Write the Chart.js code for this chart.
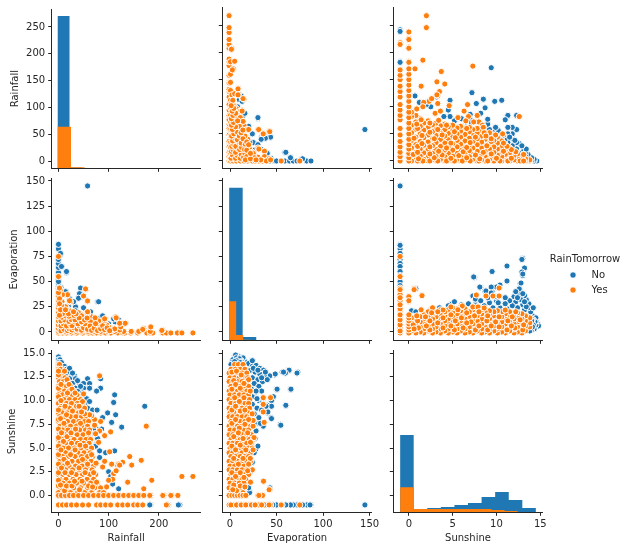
<!DOCTYPE html>
<html><head><meta charset="utf-8">
<style>html,body{margin:0;padding:0;background:#fff}#w{position:relative;width:628px;height:550px;overflow:hidden}canvas{position:absolute;left:0;top:0}</style>
<script src="https://cdn.jsdelivr.net/npm/chart.js@4"></script>
</head><body><div id="w"></div>
<script>
const BLUE='#1f77b4',ORANGE='#ff7f0e',INK='#262626';
const varNames=['Rainfall','Evaporation','Sunshine'];
const varRanges=[[-13.5,283.5],[-8.3,152.3],[-1.775,15.275]];
const xTickValues=[[0,100,200],[0,50,100,150],[0,5,10,15]];
const yTickValues=[[0,50,100,150,200,250],[0,25,50,75,100,125,150],[0,2.5,5,7.5,10,12.5,15]];
const colSpans=[[51.7,200.7],[222.3,371.7],[393.3,542.7]];
const rowSpans=[[7.3,168.3],[178.6,340.3],[350.5,512.3]];
const yTitlePad=[9,8,6];

/* Rainfall (rows of rainfall values at each sunshine level) */
const sunLevels=[13.8,13.3,12.9,12.4,12,11.5,11,10.6,10.1,9.7,9.2,8.7,8.3,7.8,7.3,6.9,6.4,5.9,5.5,5,4.5,4.1,3.6,3.1,2.7,2.2,1.7,1.3,0.8,0.3,0,-1];
const rainAtSunYes=[[0,2],[0,4],[1,7],[0,6,13],[2,10,18],[0,7,15,24],[3,12,21,30],[0,8,17,27,37],[2,11,22,33,44],[0,7,16,26,38,48],[3,12,22,33,43,52],[0,8,18,29,40,50],[2,13,24,35,46,56],[0,7,18,30,41,52,60],[3,12,24,36,47,58],[0,8,19,30,42,54,62],[2,13,25,37,49,60],[0,8,19,31,44,55,64],[3,14,26,38,50,61],[0,9,20,32,45,57,66],[2,14,27,39,51,63],[0,8,20,33,46,58,68],[3,15,27,40,52,65],[0,9,21,34,47,60,70],[2,14,28,41,54,67],[0,8,21,35,48,62,74],[3,15,29,43,57,70],[0,9,22,36,50,64,78],[2,16,30,44,58,72,84],[0,10,24,38,52,66,82,90],[0,6,14,22,30,40,50,60,70,80,90,100,110,120,130,140,150,160,170,184,210,226,238],[0,8,16,26,36,48,60,76,84,94,104,118,128,138,150,158,168,218,215]];
const rainSunExtraYes=[[268,2],[246,2],[175,7.3],[82,12.6],[170,0.7],[186,1.6],[165,3.7],[142,4.1],[146,3.2],[138,1.4],[128,3.5],[120,3.3],[106,3.3],[110,2.3],[108,1.7],[104,6.7],[102,4.6],[88,3],[92,6.3],[84,7.8],[72,8],[50,10.7],[48,9.9],[208,0],[224,0],[182,0],[122,3.2],[115,2.6],[92,3.6],[80,5.6],[82,6.8],[72,7.4],[74,6.5],[66,8.4],[62,8.5],[100,1.6],[96,0.9],
 [0,1],[0,1.6],[0,2.4],[0,3.3],[0,4.3],[0,5.2],[0,6.1],[0,7],[0,8],[0,9],[0,10.4],[0,11.3],[0,12.7],[0,13.1],[4,1.1],[6,2.9],[5,4.8],[6,6.6],[4,8.1],[5,10],[5,11.7],[12,0.5],[13,2.4],[11,3.8],[10,5.7],[11,7.6],[13,9.4],[16,1],[18,3.4],[17,6.2],[16,8.5],[18,10.8],[27,1],[26,2.4],[24,4.3],[25,6.6],[28,8.9],[32,1.5],[33,4.8],[34,7],[36,9.4],[42,0.6],[41,2.9],[43,5.3],[44,7.6],[47,1.5],[48,3.8],[53,2.4],[54,5.2],[52,8.6],[60,1],[58,3.3],[60,6.6],[68,0.9],[70,2.4],[66,4.3],[76,1.4],[75,3.4],
 [12,13.1],[17,12.2],[21,11.7],[27,11.2],[33,10.8],[41,9.4],[46,8.8]];
const rainSunNoPts=[[14.6,0],[14.3,0],[14.3,3],[14,1],[14,6],[13.6,0],[13.6,6],[13.6,12],[13.3,4],[13.3,10],[13.3,16],[13,8],[13,16],[13,22],[12.6,14],[12.6,26],[12.6,32],[12.3,34],[12.3,58],[12.3,84],[12.3,22],[11.8,42],[11.8,50],[11.8,62],[11.8,28],[11.3,50],[11.3,62],[11.3,84],[11.3,34],[11,76],[11,40],[10.6,112],[10.6,44],[9.8,110],[9.8,54],[9.4,172],[9.2,58],[9,68],[9,77],[8.7,98],[8.5,114],[8.5,64],[8.2,88],[7.7,106],[7.2,126],[7,76],[7,86],[7,70],[6.5,72],[5.4,76],[5.2,74],[4.7,112],[4.7,82],[4.5,94],[4,82],[3.2,118],[2.5,100],[2,104],[1.2,108],[0.7,120],[0,120],[-1,184],[-1,242],[-1,218],[0,6],[3,6],[6,6],[9,10],[0,100],[-1,239],[-1,219],[-1,182],[10.8,48],[10.2,56],[9.9,62],[8.1,70],[6,78],[13.4,22],[12.9,28],[12.1,38],[11.5,44]];
const rainSunNo=rainSunNoPts.map(p=>[p[1],p[0]]);

/* Rainfall at each evaporation level */
const evapLevels=[-1,0.5,2,3.5,5,7,9,11,13,15,17,19,21,24];
const rainAtEvapYes=[[0,8,16,26,36,48,60,68,76,84,94,104,118,128,132,144,158,176,183,188,208,215,224,237,246,268],[0,6,14,24,34,46,58,70,84,98,112,130,145,160,183],[2,10,20,32,44,56,68,80,94,108,122,208],[0,7,16,28,40,52,64,76,90,104,170],[3,12,24,36,48,60,72,86,100,124,184],[0,9,20,32,44,56,68,82,96],[3,14,26,38,50,62,74,88,124,134],[0,8,18,30,42,54,66,80,92],[3,12,22,36,48,60,72,94],[0,8,18,28,40,52,66,114],[2,12,24,36,46],[0,6,16,28,40,58],[3,10,22],[0,6,14]];
const rainEvapExtraYes=[[206,1.5],[168,2.5],[133,8.6],[122,8.6],[115,14],[112,3],[89,5.4],[92,13],[72,7],[73,14],[64,10],[58,18],[46,16],[58,30],[51,35],[55,42],[16,24],[24,30],[18,37],[7,30],[8,37],[4,42],[0,36],[0,55],[0,75],[22,31],[14,25],[54,42.7],[50,35.7],[58,30.8],[58,20],[0,27],[0,31],[0,35],[0,39],[2,43.6],[2,33],[6,26],
 [5,1],[11,2.6],[18,1.3],[21,3.2],[27,1.9],[30,4.2],[37,2.8],[41,6],[46,1.7],[50,4.1],[53,8],[58,2.6],[63,5.9],[66,1.6],[71,3.7],[74,8.2],[78,1.4],[84,3.1],[88,6.1],[92,2.3],[97,4],[102,1.2],[5,6],[10,8],[16,6],[23,8.3],[27,6.2],[34,9.8],[39,8],[46,10],[52,11.9],[57,13.8],[5,11],[12,12],[21,10.4],[25,12.4],[33,12],[41,14],[7,14.6],[14,16],[21,15.6],[31,16.4],[35,18],[8,18],[20,18],[30,20],[2,16.5],[4,22],[14,22],[2,28]];
const rainEvapNo=[[58,145],[78,30],[46,43],[44,34],[46,37],[35,24],[35,20],[84,14],[113,10],[16,59],[7,65],[4,77],[5,44],[15,40],[0,45],[0,48],[0,52],[0,59],[0,64],[0,68],[0,82.5],[0,87],[0,72],[0,55],[0,50],[0,43],[2,40],[16,60],[6,65],[4,78],[44,43.6],[42,38],[40,33.5],[34,25],[34,21],[14,40],[80,30],[120,12],[110,13],[88,16],[64,20],[50,24],[30,30],[22,33],[100,8],[20,26],[242,-1],[184,-1]];

/* Evaporation at each sunshine level */
const evapAtSunYes=[[5,9,14],[1,6,11,16],[-1,3,8,13,18],[0,5,10,15,19],[-1,3,8,13,18],[1,6,11,16,20],[-1,3,8,13,18],[0,5,10,15,20],[-1,3,8,13,18,21],[1,6,11,16,20],[-1,3,8,13,18,21],[0,5,10,15,20],[-1,3,8,13,18,22],[1,6,11,16,21],[-1,3,8,13,18,22],[0,5,10,15,20],[-1,3,8,13,18,23],[1,6,11,16,21,25],[-1,3,8,13,18,23],[0,5,10,15,20,24],[-1,3,8,13,18,22],[1,6,11,16,20],[-1,3,8,13,18,22],[0,5,10,15,20],[-1,3,8,13,18],[1,6,11,16,20],[-1,3,8,13,17],[0,5,10,15],[-1,3,8,13],[1,5,9,14],[-1,2,5,8,11,14,17,30,35],[-1,4,9,14,19,21,25,29,31,37,43.6,55,75,10,15,42,1,7,12,17,23,27,34]];
const evapSunExtraYes=[[36.7,7.7],[35.7,8.8],[35.7,9.6],[35.7,10.3],[43.6,10.3],[24.8,4.8],[24.8,7.3],[24.8,7.9],[24,2.7],[25.8,6.1],[21.8,3.9],[23.8,8.6],[21.8,11],[35,0],[31,0],[43,0.6],[36,1.5],[42,0.6],[20,12.2],[22,1.4],
 [2,13],[4,12.1],[7,13.1],[12,12.7],[2,11.2],[6,11.7],[11,11.3],[15,11.8],[5,10.3],[10,9.9],[15,10.3],[2,9],[6,9.4],[11,8.9],[16,9],[2,7.6],[6,8],[10,7.1],[16,7.5],[20,8],[4,6.2],[9,6.6],[14,6],[19,6.6],[2,5.2],[6,4.8],[11,5.3],[17,4.8],[22,5.6],[4,3.9],[9,3.3],[14,3.9],[20,3.3],[2,2.4],[6,2],[11,2.4],[15,1.9],[4,1.1],[7,0.5],[11,1],[16,0.9],[19,2.6],[3,0.6]];
const evapSunNo=[[145,-1],[87,-1],[82.5,-1],[78,-1],[72,-1],[68,-1],[65,-1],[60,-1],[56,-1],[50,-1],[46,-1],[43,-1],[40,-1],[86,-1],[73,13],[63,13.2],[60,13],[56,13],[48,12.7],[42,12.6],[65,11.2],[50,11.2],[46.5,10.4],[60,9.5],[40,9.5],[40,8.7],[44,8.2],[54,7.5],[31,7.6],[36,1.5],[43,0.8],[21,0.4],[72,12.9],[63.5,13.2],[59.5,12.9],[57.5,13],[48.6,12.8],[42.7,12.6],[65.5,11.2],[60,9.5],[54.6,7.4],[50.6,11.2],[46.6,10.4],[44.6,10],[44.6,9.4],[44.6,8.1],[40.7,8.8],[38.7,9.4],[35.7,7.3],[32.7,7.6],[27.8,4.9],[31,10],[35,9.8],[21,0.3],
[12,14.4],[8,14.2],[4,14],[16,14.1],[20,13.9],[24,13.6],[28,13.7],[32,13.4],[36,13.2],[22,13.2],[27,13],[32,12.8],[37,12.6],[24,12.4],[30,12.2],[35,12],[40,12.2],[26,11.8],[31,11.5],[23,11.2],[28,10.9],[34,11],[24,10.4],[29,10.2],[24,9.6],[29,9.2],[34,9],[26,8.6],[31,8.2],[26,7.6],[28,6.8],[27,6],[30,5.2],[26,4.5],[24,3.5],[22,2.5],[20,0.8],[5,14.6],[10,14.6],[8,14.7],[14,14.5],[25,13.4],[30,13.2],[6,14.8],[10,14],[34,12.4],[38,13],[28,11],[24,14.2],[5,14.3],[8,14.4],[12,14.2],[11,14.0],[3,14.3],[9,14.1],[7,14.5],[10,14.4],[12,14.1],[12,13.9],[8,13.8],[7,14.2],[11,13.6],[2,14],[1,13.8],[13,14],[6,14.1],[7,14.2],[11,14.0],[5,14.1]];

/* Histogram bins: edges and counts */
const histEdges={
 rainNo:[-2,22,46,70,94,118,142,166,190,214,242],
 rainYes:[-2,25,52,79,106,133,160,187,214,241,270],
 evapNo:[-1,13.6,28.2,42.8,57.4,72,86.6,101.2,115.8,130.4,145],
 evapYes:[-1,6.6,14.2,21.8,29.4,37,44.6,52.2,59.8,67.4,75],
 sunNo:[-1,0.55,2.1,3.65,5.2,6.75,8.3,9.85,11.4,12.95,14.5],
 sunYes:[-1,0.49,1.98,3.47,4.96,6.45,7.94,9.43,10.92,12.41,13.9]};
const histCounts={
 rainNo:[2926,14,6,3,2,1,0,1,0,1],
 rainYes:[798,22,8,4,3,2,1,1,0,2],
 evapNo:[2888,63,8,3,2,1,0,0,0,1],
 evapYes:[741,100,12,4,2,1,1,0,0,1],
 sunNo:[1463,57,82,101,139,177,291,386,234,82],
 sunYes:[475,63,63,63,63,63,63,44,25,6]};
const histMax=3059;
const legendTitle='RainTomorrow',legendLabels=['No','Yes'];

function unpack(levels,rows){const o=[];rows.forEach((r,i)=>r.forEach(v=>o.push([v,levels[i]])));return o;}
const rainSunYes=unpack(sunLevels,rainAtSunYes).concat(rainSunExtraYes);
const rainEvapYes=unpack(evapLevels,rainAtEvapYes).concat(rainEvapExtraYes);
const evapSunYes=unpack(sunLevels,evapAtSunYes).concat(evapSunExtraYes);
const pairs={'0-1':[rainEvapNo,rainEvapYes],'0-2':[rainSunNo,rainSunYes],'1-2':[evapSunNo,evapSunYes]};
const histKeys=['rain','evap','sun'];

function histLine(k){const e=histEdges[k],c=histCounts[k],o=[{x:e[0],y:0}];
 c.forEach((h,i)=>{o.push({x:e[i],y:h});o.push({x:e[i+1],y:h});});o.push({x:e[e.length-1],y:0});return o;}
function fmt(v,row){return row===2?v.toFixed(1):String(v);}
const wrap=document.getElementById('w');
function addCanvas(l,t,w,h){const c=document.createElement('canvas');c.width=w;c.height=h;c.style.left=l+'px';c.style.top=t+'px';c.style.width=w+'px';c.style.height=h+'px';wrap.appendChild(c);return c;}
const font={family:'"DejaVu Sans"',size:10};

for(let row=0;row<3;row++)for(let col=0;col<3;col++){
 const [L,R]=colSpans[col],[T,B]=rowSpans[row];
 let datasets;
 if(row===col){
  const k=histKeys[row];
  datasets=[
   {label:'No',data:histLine(k+'No'),showLine:true,fill:'origin',backgroundColor:BLUE,borderWidth:0,pointRadius:0,yAxisID:'yc',order:2,tension:0},
   {label:'Yes',data:histLine(k+'Yes'),showLine:true,fill:'origin',backgroundColor:ORANGE,borderWidth:0,pointRadius:0,yAxisID:'yc',order:1,tension:0}];
 }else{
  const a=Math.min(row,col),b=Math.max(row,col),p=pairs[a+'-'+b];
  const toPts=arr=>arr.map(v=>col<row?{x:v[0],y:v[1]}:{x:v[1],y:v[0]});
  const st={pointRadius:3.1,pointBorderColor:'#fff',pointBorderWidth:1,showLine:false};
  datasets=[
   Object.assign({label:'No',data:toPts(p[0]),pointBackgroundColor:BLUE,order:2},st),
   Object.assign({label:'Yes',data:toPts(p[1]),pointBackgroundColor:ORANGE,order:1},st)];
 }
 const scales={
  x:{type:'linear',min:varRanges[col][0],max:varRanges[col][1],
     afterBuildTicks:s=>{s.ticks=xTickValues[col].map(v=>({value:v}));},
     afterFit:s=>{s.height=550-B;},
     grid:{drawOnChartArea:false,drawTicks:true,tickLength:3.5,tickColor:INK,tickWidth:1},
     border:{display:true,color:INK,width:1},
     ticks:{display:row===2,color:INK,font,padding:3,maxRotation:0,autoSkip:false,callback:v=>String(v)},
     title:{display:row===2,text:varNames[col],color:INK,font,padding:{top:0,bottom:6}}},
  y:{type:'linear',min:varRanges[row][0],max:varRanges[row][1],
     afterBuildTicks:s=>{s.ticks=yTickValues[row].map(v=>({value:v}));},
     afterFit:s=>{s.width=L;},
     grid:{drawOnChartArea:false,drawTicks:true,tickLength:3.5,tickColor:INK,tickWidth:1},
     border:{display:true,color:INK,width:1},
     ticks:{display:col===0,color:INK,font,padding:3,autoSkip:false,callback:v=>fmt(v,row)},
     title:{display:col===0,text:varNames[row],color:INK,font,padding:{top:yTitlePad[row],bottom:0}}}
 };
 if(row===col)scales.yc={type:'linear',display:false,min:0,max:histMax};
 new Chart(addCanvas(0,0,628,550),{type:'scatter',data:{datasets},options:{
  responsive:false,animation:false,devicePixelRatio:1,
  layout:{padding:{left:0,top:T,right:628-R,bottom:0}},
  plugins:{legend:{display:false},tooltip:{enabled:false}},scales}});
}
/* legend title, centred on its canvas (centre x=585) */
new Chart(addCanvas(545,250,80,20),{type:'scatter',data:{datasets:[]},
 options:{responsive:false,animation:false,devicePixelRatio:1,
  scales:{x:{display:false},y:{display:false}},
  plugins:{tooltip:{enabled:false},legend:{display:false},
   title:{display:true,text:legendTitle,color:INK,font:Object.assign({weight:'normal'},font),padding:{top:3,bottom:0}}}}});
/* legend items from the library's legend */
new Chart(addCanvas(564,265,120,40),{type:'scatter',data:{datasets:[
  {label:legendLabels[0],data:[],backgroundColor:BLUE,borderColor:'#fff',borderWidth:0.7,pointStyle:'circle'},
  {label:legendLabels[1],data:[],backgroundColor:ORANGE,borderColor:'#fff',borderWidth:0.7,pointStyle:'circle'}]},
 options:{responsive:false,animation:false,devicePixelRatio:1,
  scales:{x:{display:false},y:{display:false}},
  plugins:{tooltip:{enabled:false},
   legend:{display:true,position:'left',align:'start',
   labels:{usePointStyle:true,pointStyle:'circle',boxWidth:8,boxHeight:4.4,color:INK,font,padding:5,
    generateLabels:c=>Chart.defaults.plugins.legend.labels.generateLabels(c).map(i=>Object.assign(i,{text:'   '+i.text}))}}}}});
</script></body></html>
